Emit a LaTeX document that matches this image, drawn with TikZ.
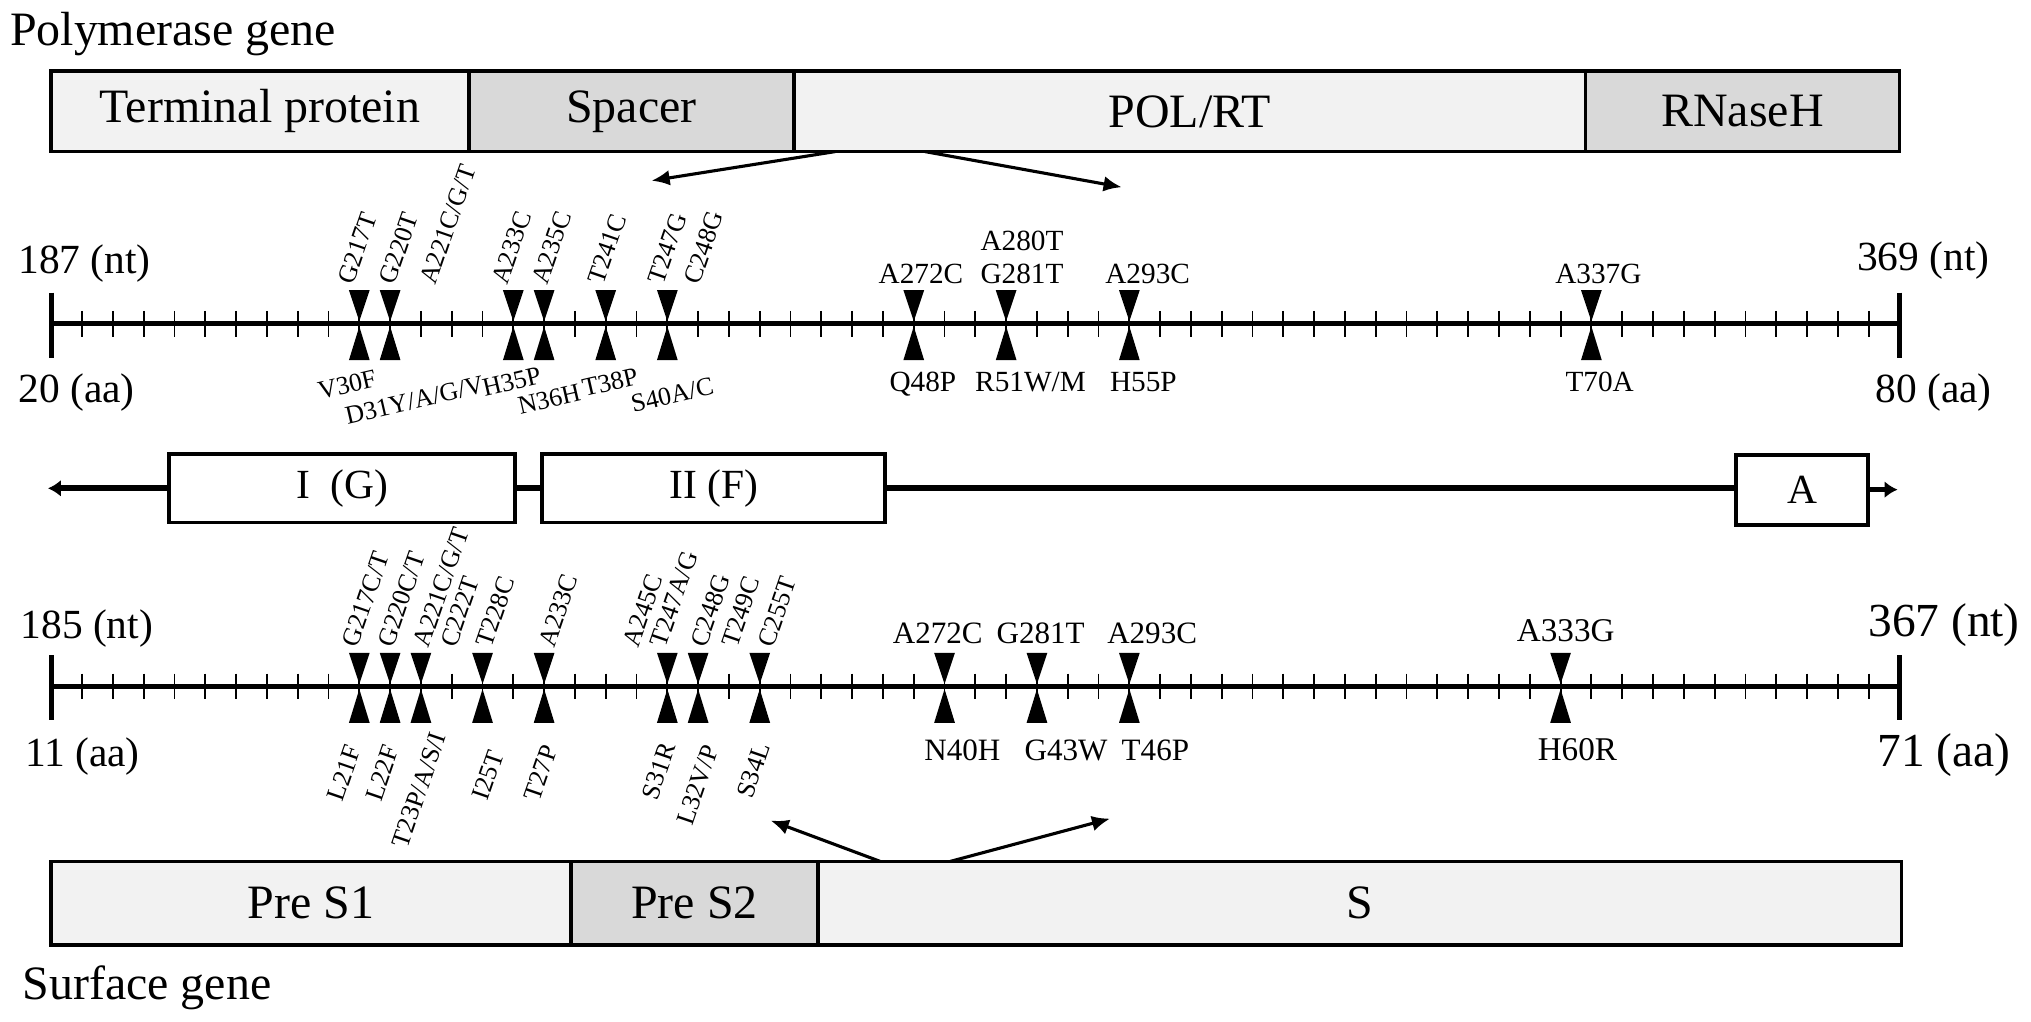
\documentclass[tikz,border=0pt]{standalone}
\usepackage{fontspec}
\setmainfont{Liberation Serif}
\usetikzlibrary{arrows.meta, positioning}
\definecolor{segpale}{HTML}{F2F2F2}
\definecolor{segdark}{HTML}{D9D9D9}
% pair of mutation marks on a scale line: x, line y
\newcommand{\mutmark}[2]{%
  \fill (#1-8,#2-26) -- (#1+8,#2-26) -- (#1,#2-2) -- cycle;
  \fill (#1-8,#2+28) -- (#1+8,#2+28) -- (#1,#2+2) -- cycle;}

\begin{document}
\begin{tikzpicture}[
  x=0.5pt, y=-0.5pt,
  seg/.style={draw=black, line width=1.4pt, outer sep=0pt, inner sep=0pt,
              font=\fontsize{18.5}{22}\selectfont},
  dom/.style={draw=black, line width=1.5pt, fill=white, outer sep=0pt, inner sep=0pt,
              minimum height=26.4pt, font=\fontsize{16}{19}\selectfont},
  gtitle/.style={inner sep=0pt, font=\fontsize{18.5}{22}\selectfont},
  ends/.style={inner sep=0pt, font=\fontsize{16}{19}\selectfont},
  endsbig/.style={inner sep=0pt, font=\fontsize{18.3}{21}\selectfont},
  mutH/.style={inner sep=0pt, anchor=base, font=\fontsize{11.3}{13}\selectfont},
  mutL/.style={inner sep=0pt, anchor=base, font=\fontsize{12}{14}\selectfont},
  mutR/.style={inner sep=0pt, rotate=71, font=\fontsize{10}{12}\selectfont},
  mutT/.style={inner sep=0pt, rotate=13, font=\fontsize{10}{12}\selectfont},
  scl/.style={line width=2pt},
  endtk/.style={line width=2pt},
  tk/.style={line width=0.7pt},
  zoomarr/.style={-{Latex[length=7pt, width=6pt]}, line width=1.2pt},
  domarr/.style={-{Latex[length=5pt, width=6.5pt]}, line width=2.2pt}
]
\fill[white] (0,0) rectangle (1568,789);
\useasboundingbox (0,0) rectangle (1568,789);

% polymerase gene
\node[gtitle, anchor=base west] (polgene) at (7.4,35) {Polymerase gene};
\node[seg, fill=segpale, minimum width=161.3pt, minimum height=31pt] (tp) at (200.7,86) {Terminal protein};
\node[seg, fill=segdark, minimum width=125.5pt, minimum height=31pt, right=0pt of tp] (spc) {Spacer};
\node[seg, fill=segpale, minimum width=305.5pt, minimum height=31pt, right=0pt of spc] (pol) {POL/RT};
\node[seg, fill=segdark, minimum width=121.2pt, minimum height=31pt, right=0pt of pol] (rnh) {RNaseH};

\coordinate (polA) at (645,117);
\coordinate (polB) at (714,117);
\coordinate (tipA) at (503,139.5);
\coordinate (tipB) at (866,144.5);
\draw[zoomarr] (polA) -- (tipA);
\draw[zoomarr] (polB) -- (tipB);

% upper scale, 20-80 aa
\coordinate (u0) at (39.6,250);
\coordinate (u1) at (1466.4,250);
\draw[scl] (u0) -- (u1);
\draw[endtk] (u0) ++(0,-24) -- ++(0,50);
\draw[endtk] (u1) ++(0,-24) -- ++(0,50);
\foreach \i in {1,...,59}
  \draw[tk] ({39.6+\i*23.78},240) -- ({39.6+\i*23.78},260);
\foreach \a in {30,31,35,36,38,40,48,51,55,70}{
  \pgfmathsetmacro\x{39.6+(\a-20)*23.78}
  \mutmark{\x}{250}}

\node[ends, anchor=base west] (nt187) at (13.8,211) {187 (nt)};
\node[ends, anchor=base west] (aa20) at (13.8,311) {20 (aa)};
\node[ends, anchor=base east] (nt369) at (1536.4,208.5) {369 (nt)};
\node[ends, anchor=base east] (aa80) at (1538,311) {80 (aa)};

\node[mutR, anchor=base west] (p217) at (272.6,221) {G217T};
\node[mutR, anchor=base west] (p220) at (304.7,221) {G220T};
\node[mutR, anchor=base west] (p221) at (336.4,221) {A221C/G/T};
\node[mutR, anchor=base west] (p233) at (391.5,221) {A233C};
\node[mutR, anchor=base west] (p235) at (422.5,221) {A235C};
\node[mutR, anchor=base west] (p241) at (465.6,221) {T241C};
\node[mutR, anchor=base west] (p247) at (512,221) {T247G};
\node[mutR, anchor=base west] (p248) at (540,221) {C248G};
\node[mutH] (p272) at (711,219) {A272C};
\node[mutH] (p280) at (789,193.3) {A280T};
\node[mutH] (p281) at (789,219) {G281T};
\node[mutH] (p293) at (886,219) {A293C};
\node[mutH] (p337) at (1234,219) {A337G};

\node[mutT] (v30) at (268,297) {V30F};
\node[mutT] (d31) at (320,309) {D31Y/A/G/V};
\node[mutT] (h35) at (395,295) {H35P};
\node[mutT] (n36) at (424,308) {N36H};
\node[mutT] (t38) at (471,295) {T38P};
\node[mutT] (s40) at (519,305) {S40A/C};
\node[mutH] (q48) at (712.5,302) {Q48P};
\node[mutH] (r51) at (795.6,302) {R51W/M};
\node[mutH] (h55) at (882.7,302) {H55P};
\node[mutH] (t70) at (1235,302) {T70A};

% domains between the scales
\node[dom, minimum width=133.65pt] (dg1) at (264.15,377) {I~~(G)};
\node[dom, minimum width=132.45pt] (dg2) at (551.05,377) {II (F)};
\node[dom, minimum width=50.75pt, minimum height=27pt] (dga) at (1391.25,378) {A};
\coordinate (dL) at (37,377);
\coordinate (dR) at (1465,377);
\draw[domarr] (dg1.west) -- (dL);
\draw[line width=2.2pt] (dg1.east) -- (dg2.west);
\draw[line width=2.2pt] (dg2.east) -- (dga.west |- dg2.east);
\draw[domarr] (dga.east) -- (dR |- dga.east);

% lower scale, 11-71 aa
\coordinate (s0) at (39.6,530);
\coordinate (s1) at (1466.4,530);
\draw[scl] (s0) -- (s1);
\draw[endtk] (s0) ++(0,-24) -- ++(0,50);
\draw[endtk] (s1) ++(0,-24) -- ++(0,50);
\foreach \i in {1,...,59}
  \draw[tk] ({39.6+\i*23.78},520) -- ({39.6+\i*23.78},540);
\foreach \a in {21,22,23,25,27,31,32,34,40,43,46,60}{
  \pgfmathsetmacro\x{39.6+(\a-11)*23.78}
  \mutmark{\x}{530}}

\node[ends, anchor=base west] (nt185) at (15.5,493) {185 (nt)};
\node[ends, anchor=base west] (aa11) at (19,592) {11 (aa)};
\node[endsbig, anchor=base east] (nt367) at (1559.7,491.5) {367 (nt)};
\node[endsbig, anchor=base east] (aa71) at (1552.6,592) {71 (aa)};

\node[mutR, anchor=base west] (q217) at (276,501) {G217C/T};
\node[mutR, anchor=base west] (q220) at (303.6,501) {G220C/T};
\node[mutR, anchor=base west] (q221) at (331,501) {A221C/G/T};
\node[mutR, anchor=base west] (q222) at (352,501) {C222T};
\node[mutR, anchor=base west] (q228) at (379.5,501) {T228C};
\node[mutR, anchor=base west] (q233) at (427.7,501) {A233C};
\node[mutR, anchor=base west] (q245) at (493,501) {A245C};
\node[mutR, anchor=base west] (q247) at (514,501) {T247A/G};
\node[mutR, anchor=base west] (q248) at (545,501) {C248G};
\node[mutR, anchor=base west] (q249) at (569,501) {T249C};
\node[mutR, anchor=base west] (q255) at (597,501) {C255T};
\node[mutL] (q272) at (724,497) {A272C};
\node[mutL] (q281) at (803.4,497) {G281T};
\node[mutL] (q293) at (889.5,497) {A293C};
\node[mutL, font=\fontsize{12.8}{15}\selectfont] (q333) at (1208.8,495) {A333G};

\node[mutR, anchor=base east] (l21) at (279,578) {L21F};
\node[mutR, anchor=base east] (l22) at (308.5,578) {L22F};
\node[mutR, anchor=base east] (t23) at (344.7,568) {T23P/A/S/I};
\node[mutR, anchor=base east] (i25) at (389.5,582) {I25T};
\node[mutR, anchor=base east] (t27) at (430.8,578) {T27P};
\node[mutR, anchor=base east] (s31) at (522,576) {S31R};
\node[mutR, anchor=base east] (l32) at (555.2,578) {L32V/P};
\node[mutR, anchor=base east] (s34) at (595,576) {S34L};
\node[mutL] (n40) at (743,587) {N40H};
\node[mutL] (g43) at (823,587) {G43W};
\node[mutL] (t46) at (892,587) {T46P};
\node[mutL, font=\fontsize{12.8}{15}\selectfont] (h60) at (1217.8,587) {H60R};

% surface gene
\coordinate (sA) at (679.5,665);
\coordinate (sB) at (733.7,665);
\coordinate (tipC) at (595,633.5);
\coordinate (tipD) at (857,632);
\draw[zoomarr] (sA) -- (tipC);
\draw[zoomarr] (sB) -- (tipD);

\node[seg, fill=segpale, minimum width=200.65pt, minimum height=32.2pt] (ps1) at (240.05,697.4) {Pre S1};
\node[seg, fill=segdark, minimum width=95.5pt, minimum height=32.2pt, right=0pt of ps1] (ps2) {Pre S2};
\node[seg, fill=segpale, minimum width=418.15pt, minimum height=32.2pt, right=0pt of ps2] (sg) {S};
\node[gtitle, anchor=base west] (surfgene) at (17,772) {Surface gene};
\end{tikzpicture}
\end{document}
